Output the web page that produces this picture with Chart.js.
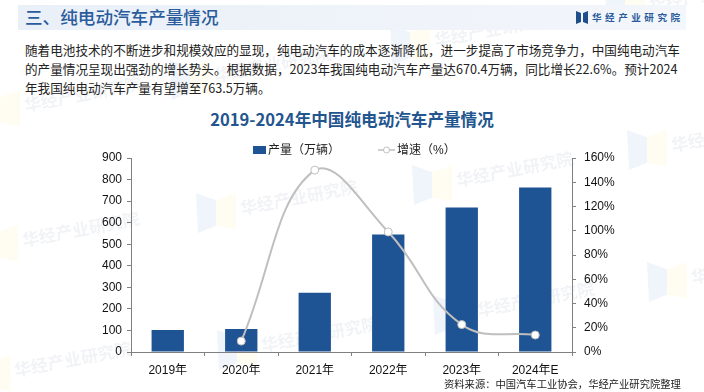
<!DOCTYPE html>
<html>
<head>
<meta charset="utf-8">
<script src="https://cdn.jsdelivr.net/npm/chart.js@4"></script>
<style>
html, body { margin: 0; padding: 0; background: #fff; }
body { position: relative; width: 704px; height: 392px; overflow: hidden; font-family: "Noto Sans CJK SC", "Noto Sans", sans-serif; }
.abs { position: absolute; white-space: nowrap; }
#band { left: 18px; top: 5px; width: 668px; height: 25px; background: linear-gradient(90deg, #eaf0f8, #f3f6fb); }
#head { left: 25px; top: 4px; font-size: 17.6px; line-height: 26px; font-weight: 500; color: #2a5b9c; }
#brand { left: 592px; top: 10px; font-size: 9.6px; line-height: 14px; font-weight: 700; letter-spacing: 3.5px; color: #2a5b9c; }
.para { left: 25px; font-size: 12.6px; line-height: 18px; color: #222; }
#title { left: 0; width: 704px; top: 106px; text-align: center; font-size: 16.6px; line-height: 26px; font-weight: 700; color: #23558f; }
#source { left: 444px; top: 377px; font-size: 10.3px; line-height: 14px; color: #222; }
.lg { top: 143px; font: 12px/14px "Liberation Sans", "Noto Sans CJK SC", sans-serif; color: #222; }
.wmtext { font-size: 17px; font-weight: 700; color: rgba(120,135,160,0.11); transform: rotate(-11deg); transform-origin: left center; }
.wma, .wmb { position: absolute; width: 20px; height: 40px; }
.wma { background: rgba(70,120,200,0.08); clip-path: polygon(0 0, 100% 18%, 100% 82%, 10% 100%); }
.wmb { background: rgba(250,220,90,0.08); clip-path: polygon(0 18%, 100% 0, 100% 90%, 0 82%); }
canvas { position: absolute; left: 0; top: 0; }
</style>
</head>
<body>
<div id="marks"></div>
<div class="abs" id="band"></div>
<div class="abs" id="head">三、纯电动汽车产量情况</div>
<svg class="abs" style="left:576px;top:11px" width="12" height="13"><polygon points="0,0 5,2 5,11 0,13" fill="#1f4e8c"/><polygon points="12,0 7,2 7,11 12,13" fill="#1f4e8c"/></svg>
<div class="abs" id="brand">华经产业研究院</div>
<div class="abs para" style="top:41px">随着电池技术的不断进步和规模效应的显现，纯电动汽车的成本逐渐降低，进一步提高了市场竞争力，中国纯电动汽车</div>
<div class="abs para" style="top:60px">的产量情况呈现出强劲的增长势头。根据数据，2023年我国纯电动汽车产量达670.4万辆，同比增长22.6%。预计2024</div>
<div class="abs para" style="top:79px">年我国纯电动汽车产量有望增至763.5万辆。</div>
<div class="abs" id="title">2019-2024年中国纯电动汽车产量情况</div>
<canvas id="myChart" width="704" height="392"></canvas>
<div id="legend"></div>
<div class="abs" id="source">资料来源：中国汽车工业协会，华经产业研究院整理</div>
<script>
const annees = ['2019年', '2020年', '2021年', '2022年', '2023年', '2024年E']
const production = [102, 107, 275, 545, 670.4, 763.5]
const croissance = [null, 9, 150, 99, 22.6, 14]
const ticksGauche = [0, 900]
const ticksDroite = [0, 160]

// filigrane de fond
const marksX = [-20, 170, 390, 605, -22, 196, 412, 627, 433, 647, 217, -30]
const marksY = [90, 60, 25, -10, 225, 193, 165, 130, 295, 262, 330, 355]
const marks = document.getElementById('marks')
marksX.forEach((x, i) => {
    const y = marksY[i]
    marks.insertAdjacentHTML('beforeend',
        `<div class="wma" style="left:${x}px;top:${y}px"></div>` +
        `<div class="wmb" style="left:${x + 20}px;top:${y}px"></div>` +
        `<div class="abs wmtext" style="left:${x + 44}px;top:${y + 2}px">华经产业研究院</div>`)
})

const dataChart = {
    labels: annees,
    datasets: [{
        type: 'line',
        label: '增速（%）',
        data: croissance,
        yAxisID: 'y2',
        order: 1,
        borderColor: '#bfbfbf',
        borderWidth: 2,
        tension: 0.42,
        pointRadius: 4,
        pointBorderWidth: 1,
        pointBackgroundColor: '#fff',
        pointBorderColor: '#bfbfbf'
    }, {
        type: 'bar',
        label: '产量（万辆）',
        data: production,
        yAxisID: 'y',
        order: 2,
        backgroundColor: '#1f5494',
        categoryPercentage: 1,
        barPercentage: 0.44
    }]
}

const axeCouleur = '#808080'
const police = { family: '"Liberation Sans", "Noto Sans CJK SC", sans-serif', size: 12 }

const config = {
    data: dataChart,
    options: {
        responsive: false,
        animation: false,
        layout: { padding: { top: 158 } },
        plugins: { legend: { display: false }, tooltip: { enabled: false } },
        scales: {
            x: {
                offset: true,
                afterFit: (s) => { s.height = 40 },
                border: { color: axeCouleur },
                grid: { drawOnChartArea: false, offset: true, color: axeCouleur, tickLength: 4 },
                ticks: { color: '#111', font: police, padding: 7, maxRotation: 0 }
            },
            y: {
                position: 'left',
                min: ticksGauche[0],
                max: ticksGauche[1],
                afterFit: (s) => { s.width = 131 },
                border: { color: axeCouleur },
                grid: { drawOnChartArea: false, color: axeCouleur, tickLength: 4 },
                ticks: { stepSize: 100, color: '#111', font: police, padding: 5 }
            },
            y2: {
                position: 'right',
                min: ticksDroite[0],
                max: ticksDroite[1],
                afterFit: (s) => { s.width = 132 },
                border: { color: axeCouleur },
                grid: { drawOnChartArea: false, color: axeCouleur, tickLength: 4 },
                ticks: { stepSize: 20, color: '#111', font: police, padding: 8, callback: (v) => v + '%' }
            }
        }
    }
}

const ctx = document.getElementById('myChart')
new Chart(ctx, config)

// legende en html, le gros ecart entre les deux items n'est pas possible avec celle de Chart.js
document.getElementById('legend').innerHTML =
    `<div class="abs" style="left:253px;top:146px;width:13px;height:8px;background:${dataChart.datasets[1].backgroundColor}"></div>` +
    `<div class="abs lg" style="left:268px">${dataChart.datasets[1].label}</div>` +
    `<svg class="abs" style="left:378px;top:145px" width="17" height="10"><line x1="0" y1="5" x2="17" y2="5" stroke="#bfbfbf" stroke-width="1.5"/><circle cx="8.5" cy="5" r="3" fill="#fff" stroke="#bfbfbf"/></svg>` +
    `<div class="abs lg" style="left:397px">${dataChart.datasets[0].label}</div>`
</script>
</body>
</html>
